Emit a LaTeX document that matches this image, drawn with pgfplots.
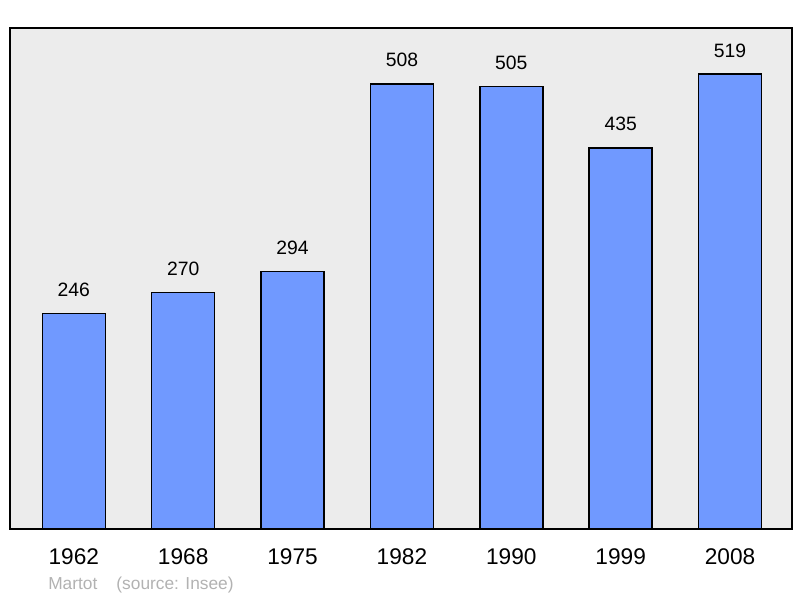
\documentclass[border=0pt]{standalone}
\usepackage{pgfplots}
\pgfplotsset{compat=1.18}
\usepackage{fontspec}
\setmainfont{Liberation Sans}
\definecolor{barblue}{RGB}{112,153,255}
\definecolor{bggray}{RGB}{236,236,236}
\definecolor{srcgray}{RGB}{178,178,178}
\begin{document}
\begin{tikzpicture}[x=0.75pt,y=0.75pt]
\path[use as bounding box] (0,0) rectangle (800,598);
\begin{axis}[
  at={(9,79)}, anchor=south west,
  scale only axis,
  width=586.5pt, height=375.75pt,
  xmin=-0.585, xmax=6.565,
  ymin=0, ymax=572,
  /pgf/number format/assume math mode=true,
  axis background/.style={fill=bggray},
  axis line style={line width=1.5pt, black},
  ytick=\empty,
  xtick={0,1,2,3,4,5,6},
  xticklabels={1962,1968,1975,1982,1990,1999,2008},
  major tick length=0pt,
  xticklabel style={anchor=base, inner sep=0pt, yshift=-27pt, font=\fontsize{17pt}{18pt}\selectfont},
  ybar, bar width=47.25pt,
  nodes near coords,
  every node near coord/.append style={anchor=south, inner sep=0pt, yshift=12pt, font=\fontsize{14.5pt}{16pt}\selectfont, black},
]
\addplot[fill=barblue, draw=black, line width=1.1pt, bar shift=0pt] coordinates {
(0,246) (1,270) (2,294) (3,508) (4,505) (5,435) (6,519)};
\end{axis}
\node[anchor=base west, inner sep=0pt, text=srcgray, font=\fontsize{13pt}{14pt}\selectfont] at (48,8) {Martot\hspace{1.1em}(source: Insee)};
\end{tikzpicture}
\end{document}
